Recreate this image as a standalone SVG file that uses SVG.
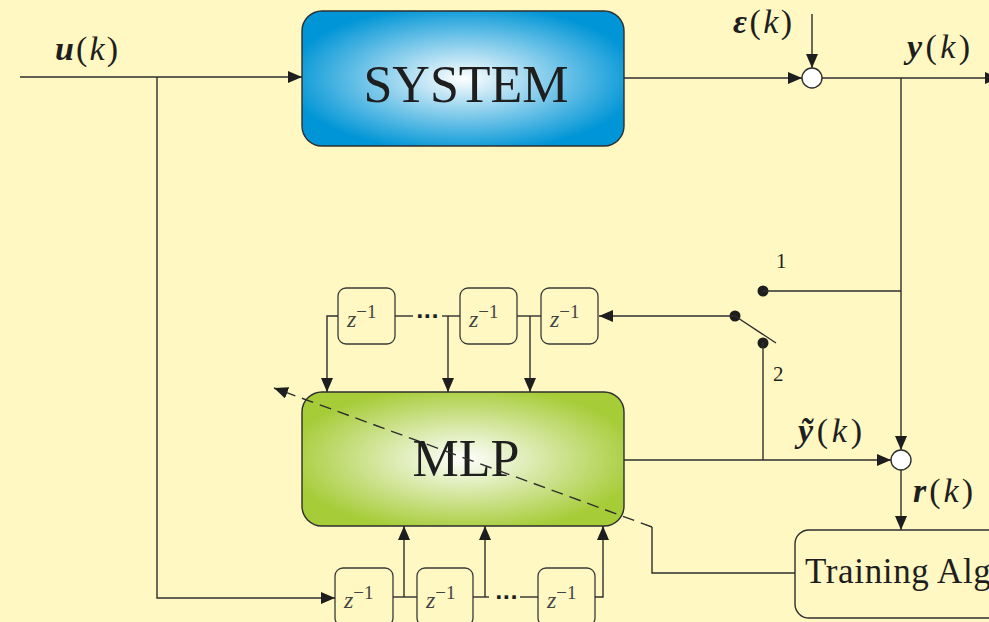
<svg xmlns="http://www.w3.org/2000/svg" width="989" height="622" viewBox="0 0 989 622">
  <defs>
    <radialGradient id="gradSystem" cx="0.5" cy="0.5" r="0.55">
      <stop offset="0" stop-color="#ffffff"/>
      <stop offset="1" stop-color="#0095d6"/>
    </radialGradient>
    <radialGradient id="gradMlp" cx="0.5" cy="0.5" r="0.55">
      <stop offset="0" stop-color="#ffffff"/>
      <stop offset="1" stop-color="#a6cc38"/>
    </radialGradient>
    <marker id="arrow" viewBox="0 0 14 12" refX="14" refY="6" markerWidth="14" markerHeight="12" markerUnits="userSpaceOnUse" orient="auto">
      <path d="M0,0 L14,6 L0,12 Z" fill="#1e1e1e"/>
    </marker>
  </defs>
  <style>
    .wire { fill: none; stroke: #2e2e2e; stroke-width: 1.4; }
    .dashed { stroke-dasharray: 12 7; }
    .block { stroke: #2e2e2e; stroke-width: 1.4; }
    .delay { fill: #fff8c2; stroke: #3a3a3a; stroke-width: 1.3; }
    .sum { fill: #ffffff; stroke: #2e2e2e; stroke-width: 1.4; }
    .dot { fill: #1e1e1e; }
    .big { font-family: "Liberation Serif", "DejaVu Serif", serif; font-size: 52px; fill: #1e1e1e; }
    .med { font-family: "Liberation Serif", "DejaVu Serif", serif; font-size: 35px; fill: #1e1e1e; }
    .math { font-family: "Liberation Serif", "DejaVu Serif", serif; font-size: 34px; font-style: italic; fill: #1e1e1e; }
    .vec { font-weight: bold; }
    .up { font-style: normal; }
    .z { font-family: "Liberation Serif", "DejaVu Serif", serif; font-size: 24px; font-style: italic; fill: #444; }
    .sup { font-size: 19px; font-style: normal; }
    .num { font-family: "Liberation Serif", "DejaVu Serif", serif; font-size: 21px; fill: #1e1e1e; }
    .dots { font-family: "DejaVu Sans", sans-serif; font-size: 20px; font-weight: bold; fill: #1e1e1e; }
  </style>

  <!-- background -->
  <rect x="0" y="0" width="989" height="622" fill="#fff8c2"/>

  <!-- system block -->
  <g id="system">
    <rect class="block" x="302" y="11" width="322" height="135" rx="20" fill="url(#gradSystem)"/>
    <text class="big" x="466" y="102" text-anchor="middle">SYSTEM</text>
  </g>

  <!-- MLP block -->
  <g id="mlp">
    <rect class="block" x="302" y="392" width="322" height="134" rx="20" fill="url(#gradMlp)"/>
    <text class="big" x="466" y="476" text-anchor="middle">MLP</text>
  </g>

  <!-- summing junctions -->
  <g id="sum-noise"><circle class="sum" cx="812" cy="78" r="10"/></g>
  <g id="sum-residual"><circle class="sum" cx="901" cy="460" r="10"/></g>

  <!-- switch -->
  <g id="switch">
    <circle class="dot" cx="763" cy="291" r="5.5"/>
    <circle class="dot" cx="735" cy="316" r="5.5"/>
    <circle class="dot" cx="763" cy="343" r="5.5"/>
    <text class="num" x="776" y="268">1</text>
    <text class="num" x="773" y="381">2</text>
  </g>

  <!-- upper delay chain -->
  <g id="delay-top-1">
    <rect class="delay" x="338" y="288" width="57" height="56" rx="8"/>
    <text class="z" x="347" y="327">z<tspan class="sup" dy="-9">−1</tspan></text>
  </g>
  <g id="delay-top-2">
    <rect class="delay" x="460" y="288" width="57" height="56" rx="8"/>
    <text class="z" x="469" y="327">z<tspan class="sup" dy="-9">−1</tspan></text>
  </g>
  <g id="delay-top-3">
    <rect class="delay" x="541" y="288" width="57" height="56" rx="8"/>
    <text class="z" x="550" y="327">z<tspan class="sup" dy="-9">−1</tspan></text>
  </g>

  <!-- lower delay chain -->
  <g id="delay-bottom-1">
    <rect class="delay" x="335" y="568" width="58" height="58" rx="8"/>
    <text class="z" x="344" y="608">z<tspan class="sup" dy="-9">−1</tspan></text>
  </g>
  <g id="delay-bottom-2">
    <rect class="delay" x="417" y="568" width="56" height="58" rx="8"/>
    <text class="z" x="426" y="608">z<tspan class="sup" dy="-9">−1</tspan></text>
  </g>
  <g id="delay-bottom-3">
    <rect class="delay" x="538" y="568" width="57" height="58" rx="8"/>
    <text class="z" x="547" y="608">z<tspan class="sup" dy="-9">−1</tspan></text>
  </g>

  <!-- training block -->
  <g id="training">
    <rect class="block" x="795" y="530" width="260" height="88" rx="14" fill="#fff8c2"/>
    <text class="med" x="805" y="583" textLength="283" lengthAdjust="spacing">Training Algorithm</text>
  </g>

  <!-- connectors (drawn last so the adaptation arrow crosses the MLP) -->
  <g id="connectors">
    <path class="wire" d="M20,77 H302" marker-end="url(#arrow)"/>
    <path class="wire" d="M157,77 V598 H335" marker-end="url(#arrow)"/>
    <path class="wire" d="M624,78 H802" marker-end="url(#arrow)"/>
    <path class="wire" d="M812,14 V68" marker-end="url(#arrow)"/>
    <path class="wire" d="M822,78 H999" marker-end="url(#arrow)"/>
    <path class="wire" d="M901,78 V450" marker-end="url(#arrow)"/>
    <path class="wire" d="M901,291 H763"/>
    <path class="wire" d="M735,316 H599" marker-end="url(#arrow)"/>
    <path class="wire" d="M735,316 L776,343"/>
    <path class="wire" d="M763,342 V460"/>
    <path class="wire" d="M624,460 H891" marker-end="url(#arrow)"/>
    <path class="wire" d="M901,470 V530" marker-end="url(#arrow)"/>
    <path class="wire" d="M795,573 H652 V527"/>
    <path class="wire dashed" d="M652,527 L274,388" marker-end="url(#arrow)"/>
    <!-- upper delay line taps -->
    <path class="wire" d="M395,316 H413"/>
    <path class="wire" d="M442,316 H460"/>
    <path class="wire" d="M338,316 H327 V392" marker-end="url(#arrow)"/>
    <path class="wire" d="M448,316 V392" marker-end="url(#arrow)"/>
    <path class="wire" d="M517,316 H541"/>
    <path class="wire" d="M530,316 V392" marker-end="url(#arrow)"/>
    <!-- lower delay line taps -->
    <path class="wire" d="M393,597 H417"/>
    <path class="wire" d="M404,597 V526" marker-end="url(#arrow)"/>
    <path class="wire" d="M473,597 H489"/>
    <path class="wire" d="M485,597 V526" marker-end="url(#arrow)"/>
    <path class="wire" d="M520,597 H538"/>
    <path class="wire" d="M595,597 H603 V526" marker-end="url(#arrow)"/>
    <text class="dots" x="416" y="323">···</text>
    <text class="dots" x="495" y="604">···</text>
  </g>

  <!-- signal labels -->
  <g id="labels">
    <text class="math" x="55" y="60" textLength="63" lengthAdjust="spacing"><tspan class="vec">u</tspan><tspan class="up">(</tspan>k<tspan class="up">)</tspan></text>
    <text class="math" x="733" y="33" textLength="59" lengthAdjust="spacing"><tspan class="vec">ε</tspan><tspan class="up">(</tspan>k<tspan class="up">)</tspan></text>
    <text class="math" x="907" y="58" textLength="63" lengthAdjust="spacing"><tspan class="vec">y</tspan><tspan class="up">(</tspan>k<tspan class="up">)</tspan></text>
    <text class="math" x="798" y="442" textLength="64" lengthAdjust="spacing"><tspan class="vec">ỹ</tspan><tspan class="up">(</tspan>k<tspan class="up">)</tspan></text>
    <text class="math" x="913" y="502" textLength="60" lengthAdjust="spacing"><tspan class="vec">r</tspan><tspan class="up">(</tspan>k<tspan class="up">)</tspan></text>
  </g>
</svg>
